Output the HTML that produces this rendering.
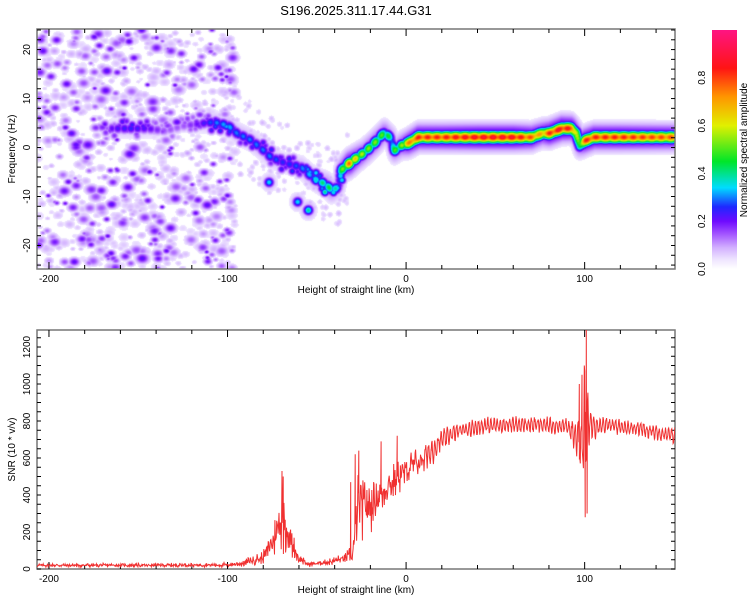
<!DOCTYPE html>
<html><head><meta charset="utf-8"><style>
body{margin:0;background:#fff;width:750px;height:600px;overflow:hidden;font-family:"Liberation Sans",sans-serif}
svg text{font-family:"Liberation Sans",sans-serif;fill:#000}
</style></head><body>
<div style="position:relative;width:750px;height:600px">
<canvas id="hm" width="638" height="240" style="position:absolute;left:37px;top:29px"></canvas>
<svg id="svg" width="750" height="600" style="position:absolute;left:0;top:0"></svg>
</div>
<script>
// ---- data ----
const ridgeKm=[-165,-155,-145,-135,-125,-115,-108,-100,-95,-87,-80,-76,-68,-59,-52,-45,-42,-38,-36.5,-32,-28,-23.6,-18,-12.4,-9,-6.7,-3,1,6.7,20,40,60,70,76,80,87,92,95,97,100,105,120,150];
const ridgeHz=[4,4,4,3.5,4.5,5,5.3,4.6,3,1.6,-0.5,-1.9,-3.1,-3.9,-6.2,-7.5,-8.6,-8,-4.5,-3.1,-2,-0.9,1,3.2,2,-0.5,0.5,1,2.2,2.2,2.2,2.2,2.2,3,3,4,4,3,0.5,1.5,2.2,2.2,2.2];
const ridgeAmp=[0.22,0.25,0.22,0.15,0.15,0.22,0.3,0.33,0.3,0.3,0.3,0.3,0.25,0.3,0.35,0.45,0.45,0.35,0.5,0.8,0.65,0.55,0.55,0.5,0.45,0.5,0.55,0.75,0.85,0.85,0.9,0.9,0.8,0.7,0.85,0.9,0.85,0.6,0.5,0.85,0.85,0.85,0.8];
const spotKm=[-77,-61,-55];
const spotHz=[-7,-11,-12.7];
const spotAmp=[0.35,0.35,0.4];
const snrKm=[-207,-150,-100,-92,-80,-72,-69,-66,-60,-55,-45,-35,-30,-27,-25,-20,-10,0,8,14,20,30,45,60,75,90,97,99,100,101,102,104,110,130,150];
const snrMean=[20,20,22,30,60,200,300,180,60,25,35,55,80,300,350,330,450,530,590,630,700,750,775,780,780,770,700,650,750,780,780,780,780,760,720];
const snrAmp=[12,12,14,20,40,150,230,120,40,15,20,30,60,250,220,150,120,100,80,70,50,40,40,40,40,40,120,150,450,200,150,80,40,40,40];
const spikeKm=[-69.5,-68.8,-31,-28.5,-26.5,-14,-5,14,97,98.5,100.3,100.9,101.4];
const spikeVal=[530,500,470,620,640,690,720,650,1000,1050,280,1300,300];
const xTicks=[-200,-100,0,100];
const hzTicks=[-20,-10,0,10,20];
const snrTicks=[0,200,400,600,800,1000,1200];
const cbTicks=[0.0,0.2,0.4,0.6,0.8];
// ---- axes ----
const X0=37,X1=675,KM0=-206.7,KM1=150.6;
const xs=k=>X0+(k-KM0)/(KM1-KM0)*(X1-X0);
const T0=29,T1=269,HZ0=-24.8,HZ1=24.2;
const yh=h=>T1-(h-HZ0)/(HZ1-HZ0)*(T1-T0);
const B0=330,B1=569,S1=1292;
const ys=v=>B1-v/S1*(B1-B0);
const CB0=30,CB1=269;
const yc=v=>CB1-v*(CB1-CB0);
const stops=[[0,[255,255,255]],[0.04,[238,228,255]],[0.09,[210,175,255]],[0.15,[160,80,255]],[0.2,[110,10,255]],[0.26,[30,40,255]],[0.34,[0,220,255]],[0.45,[0,230,40]],[0.6,[225,240,0]],[0.72,[255,150,0]],[0.84,[255,20,20]],[1,[255,20,130]]];
function cmap(v){v=Math.max(0,Math.min(1,v));for(let i=1;i<stops.length;i++){if(v<=stops[i][0]){const a=stops[i-1],b=stops[i],t=(v-a[0])/(b[0]-a[0]);return a[1].map((c,j)=>Math.round(c+(b[1][j]-c)*t));}}return stops[stops.length-1][1];}
function interp(xa,ya,x){if(x<=xa[0])return ya[0];for(let i=1;i<xa.length;i++)if(x<=xa[i]){const t=(x-xa[i-1])/(xa[i]-xa[i-1]);return ya[i-1]+(ya[i]-ya[i-1])*t;}return ya[ya.length-1];}
let seed=12345;const rnd=()=>{seed=(seed*1103515245+12345)%2147483648;return seed/2147483648;};
// ---- heatmap ----
const W=638,H=240,F=new Float32Array(W*H);
function blob(cx,cy,a,sx,sy){const rx=Math.ceil(sx*3),ry=Math.ceil(sy*3);for(let y=Math.max(0,Math.floor(cy-ry));y<Math.min(H,cy+ry);y++)for(let x=Math.max(0,Math.floor(cx-rx));x<Math.min(W,cx+rx);x++){const dx=(x-cx)/sx,dy=(y-cy)/sy;const v=a*Math.exp(-0.5*(dx*dx+dy*dy));const i=y*W+x;if(v>F[i])F[i]=v;}}
// background noise (texture)
for(let n=0;n<1000;n++){const k=KM0+rnd()*(-96-KM0);const h=HZ0+rnd()*(HZ1-HZ0);const r=rnd();const a=r<0.65?0.05+rnd()*0.04:(r<0.87?0.1+rnd()*0.06:0.17+rnd()*0.05);const s=1.5+rnd()*2.3;blob(xs(k)-X0,yh(h)-T0,a,s*1.3,s);}
for(let n=0;n<150;n++){const k=-98+rnd()*65;const h=interp(ridgeKm,ridgeHz,k)+(rnd()-0.5)*16;const a=0.045+rnd()*0.04;blob(xs(k)-X0,yh(h)-T0,a,2.5,2.5);}
// ridge
for(let k=ridgeKm[0];k<=KM1;k+=0.4){const h=interp(ridgeKm,ridgeHz,k),a=interp(ridgeKm,ridgeAmp,k);const px=xs(k)-X0,py=yh(h)-T0;
 const mod=k<0?(0.8+0.2*Math.sin(k*1.7)):(0.93+0.07*Math.sin(k*1.2));
 blob(px,py,a*0.3,5,9);blob(px,py,a*mod,3.5,k<0?4:4.3);}
for(let k=-170;k<-35;k+=1.2){const h=interp(ridgeKm,ridgeHz,k),a=interp(ridgeKm,ridgeAmp,k);blob(xs(k)-X0+(rnd()-0.5)*4,yh(h)-T0+(rnd()-0.5)*16,a*(0.6+rnd()*0.4),3,3);}
for(let i=0;i<spotKm.length;i++){blob(xs(spotKm[i])-X0,yh(spotHz[i])-T0,spotAmp[i]*0.3,6,7);blob(xs(spotKm[i])-X0,yh(spotHz[i])-T0,spotAmp[i],3.5,3.5);}
const cv=document.getElementById('hm'),ctx=cv.getContext('2d'),img=ctx.createImageData(W,H);
for(let i=0;i<W*H;i++){const c=cmap(F[i]<0.035?0:F[i]);img.data[i*4]=c[0];img.data[i*4+1]=c[1];img.data[i*4+2]=c[2];img.data[i*4+3]=255;}
ctx.putImageData(img,0,0);
// ---- svg ----
const svg=document.getElementById('svg'),NS='http://www.w3.org/2000/svg';
function el(t,a,p){const e=document.createElementNS(NS,t);for(const k in a)e.setAttribute(k,a[k]);(p||svg).appendChild(e);return e;}
function txt(x,y,s,a){const e=el('text',Object.assign({x:x,y:y,'font-size':10,'text-anchor':'middle'},a||{}));e.textContent=s;return e;}
let t=txt(356,15,'S196.2025.311.17.44.G31',{'font-size':13});


const defs=el('defs',{});const lg=el('linearGradient',{id:'cg',x1:0,y1:1,x2:0,y2:0},defs);
stops.forEach(s=>{el('stop',{offset:s[0],'stop-color':'rgb('+s[1].join(',')+')'},lg);});
let cb=el('rect',{x:712,y:CB0,width:25,height:CB1-CB0,fill:'url(#cg)'});


cbTicks.forEach(v=>{let e=txt(705,yc(v),v.toFixed(1),{transform:'rotate(-90 705 '+yc(v)+')'});

});
t=txt(747,150,'Normalized spectral amplitude',{transform:'rotate(-90 747 150)'});


function panel(top,bot,yf,yt,ylab,yminor,ymin,ymax,name){
 const g=el('g',{});
 
 
 el('rect',{x:X0,y:top,width:X1-X0,height:bot-top,fill:'none',stroke:'#777','stroke-width':1.5},g);
 for(let k=-200;k<=KM1;k+=20){const x=xs(k),L=(k%100===0)?7:4;el('line',{x1:x,x2:x,y1:bot,y2:bot-L,stroke:'#000'},g);el('line',{x1:x,x2:x,y1:top,y2:top+L,stroke:'#000'},g);}
 for(let v=ymin;v<=ymax;v+=yminor){const y=yf(v);if(y<top||y>bot)continue;el('line',{x1:X0,x2:X0+4,y1:y,y2:y,stroke:'#000'},g);el('line',{x1:X1,x2:X1-4,y1:y,y2:y,stroke:'#000'},g);}
 xTicks.forEach(k=>{let e=txt(xs(k),bot+13,String(k),{},g);});
 yt.forEach(v=>{const y=yf(v);let e=txt(30,y,String(v),{transform:'rotate(-90 30 '+y+')'});});
 let xl=txt(356,bot+24,'Height of straight line (km)');
 
 
 const my=(top+bot)/2;
 let yl=txt(15,my,ylab,{transform:'rotate(-90 15 '+my+')'});
 
 
}
panel(T0,T1,yh,hzTicks,'Frequency (Hz)',2,-24,24,'spectrogram-panel');
panel(B0,B1,ys,snrTicks,'SNR (10 * v/v)',50,0,1250,'snr-panel');
// snr line
const pts=[];seed=777;
for(let k=KM0;k<=KM1;k+=0.25){const m=interp(snrKm,snrMean,k),a=interp(snrKm,snrAmp,k);
 const r=k>10?(0.8*Math.sin(k*3.6)+0.4*(rnd()*2-1)):(rnd()*2-1)*(0.6+0.4*Math.sin(k*5.1));
 pts.push([k,Math.max(0,m+a*r)]);}
for(let i=0;i<spikeKm.length;i++)pts.push([spikeKm[i],spikeVal[i]]);
pts.sort((a,b)=>a[0]-b[0]);
let d='';pts.forEach(p=>{d+=(d?'L':'M')+xs(p[0]).toFixed(1)+' '+Math.max(B0,ys(p[1])).toFixed(1);});
const cp=el('clipPath',{id:'cp'},defs);el('rect',{x:X0,y:B0,width:X1-X0,height:B1-B0},cp);
const ln=el('path',{d:d,fill:'none',stroke:'#f03030','stroke-width':1,'clip-path':'url(#cp)'});


</script>
</body></html>
